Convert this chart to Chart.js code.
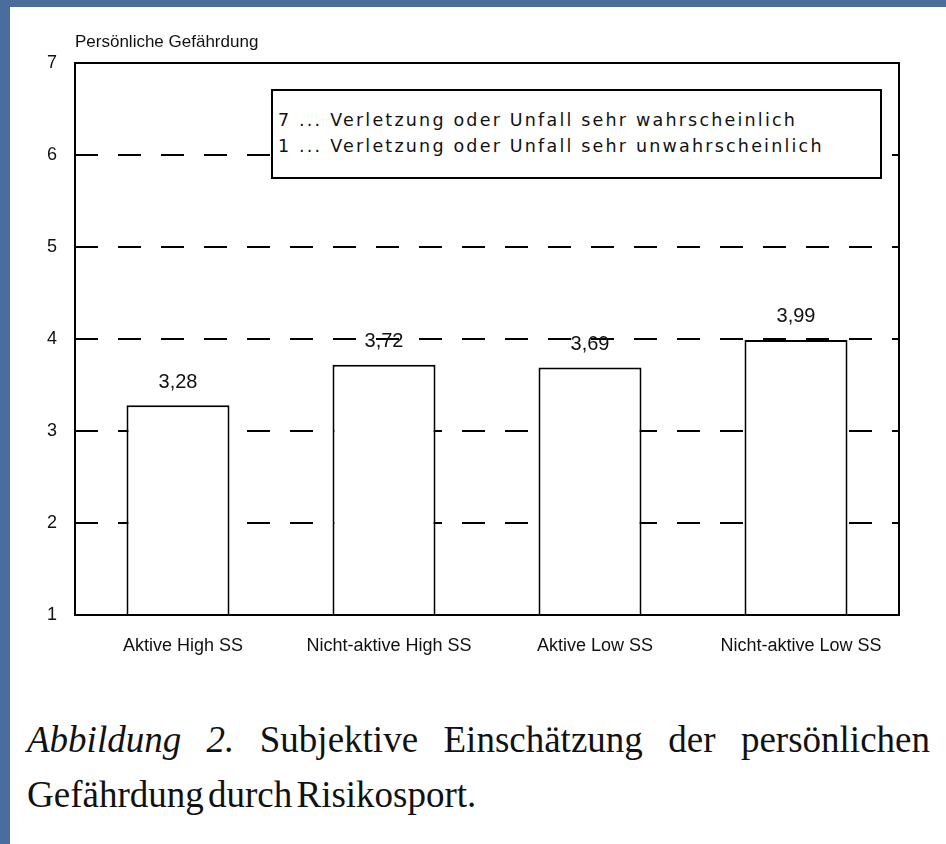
<!DOCTYPE html>
<html lang="de">
<head>
<meta charset="UTF-8">
<title>Persönliche Gefährdung</title>
<script src="https://cdn.jsdelivr.net/npm/chart.js@4"></script>
<style>
  html, body { margin: 0; padding: 0; }
  body { width: 946px; height: 844px; background: #4a6d9e; position: relative; overflow: hidden; }
  #sheet { position: absolute; left: 10px; top: 7px; right: 0; bottom: 0; background: #fff; }
  #wrap { position: absolute; left: 0; top: 0; width: 946px; height: 690px; }
  #note {
    position: absolute; left: 271px; top: 89px; width: 607px; height: 86px;
    border: 2px solid #000; background: #fff; box-sizing: content-box;
    font-family: "DejaVu Sans", sans-serif; font-size: 17.5px; letter-spacing: 2.2px;
    line-height: 26px; padding: 0; color: #111; white-space: nowrap;
  }
  #note div { padding-left: 5px; }
  #note div:first-child { margin-top: 16px; }
  #caption {
    position: absolute; left: 27px; top: 712px; width: 903px;
    font-family: "Liberation Serif", serif; font-size: 37px; line-height: 55px; color: #111;
  }
  #caption .l1 { text-align: justify; text-align-last: justify; }
  #caption .l2 { word-spacing: -5px; }
</style>
</head>
<body>
<div id="sheet"></div>
<div id="wrap"><canvas id="chart" width="946" height="690"></canvas></div>
<div id="note">
  <div>7 ... Verletzung oder Unfall sehr wahrscheinlich</div>
  <div>1 ... Verletzung oder Unfall sehr unwahrscheinlich</div>
</div>
<div id="caption">
  <div class="l1"><i>Abbildung 2.</i> Subjektive Einschätzung der persönlichen</div>
  <div class="l2">Gefährdung durch Risikosport.</div>
</div>

<script>
  // Daten aus der Abbildung
  const groups = ['Aktive High SS', 'Nicht-aktive High SS', 'Aktive Low SS', 'Nicht-aktive Low SS'];
  const means = [3.28, 3.72, 3.69, 3.99];
  const meanLabels = ['3,28', '3,72', '3,69', '3,99'];
  const yTicks = [1, 2, 3, 4, 5, 6, 7];
  const yTitle = 'Persönliche Gefährdung';

  // Rahmen, Wertbeschriftungen und Achsentitel
  const extras = {
    id: 'extras',
    afterDatasetsDraw(chart) {
      const ctx = chart.ctx;
      const area = chart.chartArea;
      ctx.save();
      ctx.strokeStyle = '#000';
      ctx.lineWidth = 2;
      ctx.strokeRect(area.left, area.top, area.right - area.left, area.bottom - area.top);

      ctx.fillStyle = '#111';
      ctx.font = '20px "Liberation Sans", Arial, sans-serif';
      ctx.textAlign = 'center';
      ctx.textBaseline = 'middle';
      chart.getDatasetMeta(0).data.forEach((bar, i) => {
        ctx.fillText(meanLabels[i], bar.x, bar.y - 23);
      });

      ctx.textAlign = 'left';
      ctx.font = '17px "Liberation Sans", Arial, sans-serif';
      ctx.fillText(yTitle, area.left, area.top - 21);
      ctx.restore();
    }
  };

  new Chart(document.getElementById('chart'), {
    type: 'bar',
    data: {
      labels: groups,
      datasets: [{
        data: means,
        backgroundColor: '#fff',
        borderColor: '#000',
        borderWidth: 2,
        borderSkipped: 'start',
        barPercentage: 0.5,
        categoryPercentage: 1
      }]
    },
    options: {
      responsive: false,
      animation: false,
      events: [],
      layout: { padding: { left: 0, top: 63, right: 47, bottom: 0 } },
      plugins: { legend: { display: false }, tooltip: { enabled: false } },
      scales: {
        x: {
          grid: { display: false, drawTicks: false },
          border: { display: false },
          ticks: {
            color: '#111',
            padding: 20,
            labelOffset: 5,
            font: { family: '"Liberation Sans", Arial, sans-serif', size: 18 },
            maxRotation: 0
          },
          afterFit(scale) { scale.height = 75; }
        },
        y: {
          min: 1,
          max: 7,
          afterBuildTicks(scale) { scale.ticks = yTicks.map(v => ({ value: v })); },
          grid: {
            drawTicks: false,
            lineWidth: 2,
            color: ctx => (ctx.tick && (ctx.tick.value === 1 || ctx.tick.value === 7)) ? 'rgba(0,0,0,0)' : '#000'
          },
          border: { display: false, dash: [23, 20] },
          ticks: {
            color: '#111',
            padding: 18,
            font: { family: '"Liberation Sans", Arial, sans-serif', size: 18 }
          },
          afterFit(scale) { scale.width = 75; }
        }
      }
    },
    plugins: [extras]
  });
</script>
</body>
</html>
